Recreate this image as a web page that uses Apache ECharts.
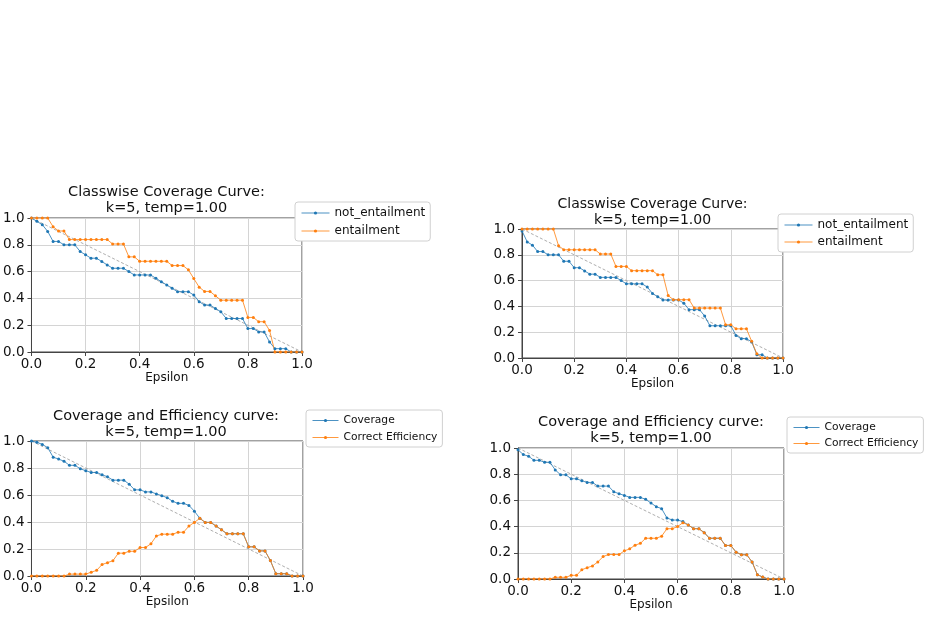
<!DOCTYPE html>
<html>
<head>
<meta charset="utf-8">
<script src="https://cdn.jsdelivr.net/npm/echarts@6/dist/echarts.min.js"></script>
<style>
  html, body { margin: 0; padding: 0; background: #fff; }
  #chart { width: 925px; height: 617px; }
</style>
</head>
<body>
<div id="chart"></div>
<script>
// epsilon grid (x values)
var eps = [0, 0.02, 0.04, 0.06, 0.08, 0.1, 0.12, 0.14, 0.16, 0.18,
  0.2, 0.22, 0.24, 0.26, 0.28, 0.3, 0.32, 0.34, 0.36, 0.38,
  0.4, 0.42, 0.44, 0.46, 0.48, 0.5, 0.52, 0.54, 0.56, 0.58,
  0.6, 0.62, 0.64, 0.66, 0.68, 0.7, 0.72, 0.74, 0.76, 0.78,
  0.8, 0.82, 0.84, 0.86, 0.88, 0.9, 0.92, 0.94, 0.96, 0.98, 1.0];

// top-left: classwise coverage
var notEnt1 = [1.0, 0.975, 0.95, 0.9, 0.825, 0.825, 0.8, 0.8, 0.8, 0.75,
  0.725, 0.7, 0.7, 0.675, 0.65, 0.625, 0.625, 0.625, 0.6, 0.575,
  0.575, 0.575, 0.575, 0.55, 0.525, 0.5, 0.475, 0.45, 0.45, 0.45,
  0.425, 0.375, 0.35, 0.35, 0.325, 0.3, 0.25, 0.25, 0.25, 0.25,
  0.175, 0.175, 0.15, 0.15, 0.075, 0.025, 0.025, 0.025, 0, 0, 0];
var ent1 = [1.0, 1.0, 1.0, 1.0, 0.935, 0.903, 0.903, 0.839, 0.839, 0.839,
  0.839, 0.839, 0.839, 0.839, 0.839, 0.806, 0.806, 0.806, 0.71, 0.71,
  0.677, 0.677, 0.677, 0.677, 0.677, 0.677, 0.645, 0.645, 0.645, 0.613,
  0.548, 0.484, 0.452, 0.452, 0.419, 0.387, 0.387, 0.387, 0.387, 0.387,
  0.258, 0.258, 0.226, 0.226, 0.161, 0, 0, 0, 0, 0, 0];

// top-right: classwise coverage
var notEnt2 = [0.985, 0.9, 0.875, 0.825, 0.825, 0.8, 0.8, 0.8, 0.75, 0.75,
  0.7, 0.7, 0.675, 0.65, 0.65, 0.625, 0.625, 0.625, 0.625, 0.6,
  0.575, 0.575, 0.575, 0.575, 0.55, 0.5, 0.475, 0.45, 0.45, 0.45,
  0.45, 0.425, 0.375, 0.375, 0.375, 0.325, 0.25, 0.25, 0.25, 0.25,
  0.25, 0.175, 0.15, 0.15, 0.125, 0.025, 0.025, 0, 0, 0, 0];
var ent2 = [1.0, 1.0, 1.0, 1.0, 1.0, 1.0, 1.0, 0.871, 0.839, 0.839,
  0.839, 0.839, 0.839, 0.839, 0.839, 0.806, 0.806, 0.806, 0.71, 0.71,
  0.71, 0.677, 0.677, 0.677, 0.677, 0.677, 0.645, 0.645, 0.484, 0.452,
  0.452, 0.452, 0.452, 0.387, 0.387, 0.387, 0.387, 0.387, 0.387, 0.258,
  0.258, 0.226, 0.226, 0.226, 0.129, 0.032, 0, 0, 0, 0, 0];

// bottom-left: coverage and efficiency
var cov3 = [1.0, 0.99, 0.975, 0.95, 0.88, 0.866, 0.85, 0.82, 0.82, 0.794,
  0.78, 0.767, 0.767, 0.75, 0.735, 0.71, 0.71, 0.71, 0.68, 0.638,
  0.638, 0.623, 0.623, 0.608, 0.595, 0.58, 0.553, 0.538, 0.538, 0.523,
  0.48, 0.427, 0.397, 0.397, 0.37, 0.342, 0.313, 0.313, 0.313, 0.313,
  0.216, 0.216, 0.186, 0.186, 0.114, 0.017, 0.017, 0.017, 0, 0, 0];
var eff3 = [0, 0, 0, 0, 0, 0, 0, 0.014, 0.014, 0.014,
  0.014, 0.028, 0.042, 0.085, 0.099, 0.113, 0.169, 0.169, 0.183, 0.183,
  0.211, 0.211, 0.239, 0.296, 0.31, 0.31, 0.31, 0.324, 0.324, 0.37,
  0.397, 0.427, 0.397, 0.397, 0.37, 0.342, 0.313, 0.313, 0.313, 0.313,
  0.216, 0.216, 0.186, 0.186, 0.114, 0.017, 0.017, 0.017, 0, 0, 0];

// bottom-right: coverage and efficiency
var cov4 = [0.986, 0.95, 0.937, 0.906, 0.906, 0.891, 0.891, 0.833, 0.795, 0.795,
  0.765, 0.765, 0.75, 0.737, 0.737, 0.709, 0.709, 0.709, 0.666, 0.651,
  0.638, 0.623, 0.623, 0.623, 0.608, 0.58, 0.552, 0.537, 0.466, 0.45,
  0.45, 0.438, 0.413, 0.384, 0.384, 0.354, 0.311, 0.311, 0.311, 0.256,
  0.256, 0.205, 0.185, 0.185, 0.13, 0.033, 0.015, 0, 0, 0, 0];
var eff4 = [0, 0, 0, 0, 0, 0, 0, 0.013, 0.013, 0.013,
  0.028, 0.028, 0.071, 0.086, 0.1, 0.13, 0.171, 0.187, 0.187, 0.187,
  0.215, 0.23, 0.258, 0.272, 0.311, 0.311, 0.311, 0.327, 0.384, 0.384,
  0.4, 0.43, 0.413, 0.384, 0.384, 0.354, 0.311, 0.311, 0.311, 0.256,
  0.256, 0.205, 0.185, 0.185, 0.13, 0.033, 0.015, 0, 0, 0, 0];

// reference diagonal
var diagX = [0, 1];
var diagY = [1, 0];

var classTitle = "Classwise Coverage Curve:\nk=5, temp=1.00";
var effTitle = "Coverage and Efficiency curve:\nk=5, temp=1.00";
var classNames = ["not_entailment", "entailment"];
var effNames = ["Coverage", "Correct Efficiency"];

var FONT = "DejaVu Sans";
var BLUE = "#1f77b4";
var ORANGE = "#ff7f0e";

function pairs(xs, ys) {
  return xs.map(function (x, i) { return [x, ys[i]]; });
}

// plot areas, in pixels
var grids = [
  { left: 31, top: 218, width: 271, height: 134 },
  { left: 522, top: 229, width: 261, height: 129 },
  { left: 29, top: 441, width: 274, height: 135 },
  { left: 518, top: 448, width: 266, height: 131 }
];

function axis(idx, isX) {
  var a = {
    type: "value",
    gridIndex: idx,
    min: 0,
    max: 1,
    interval: 0.2,
    axisLine: { show: true, onZero: false, lineStyle: { color: "#444", width: 1 } },
    axisTick: { show: true, length: 4, lineStyle: { color: "#444" } },
    axisLabel: {
      color: "#111",
      fontFamily: FONT,
      fontSize: 13.5,
      margin: isX ? 5 : 7,
      formatter: function (v) { return v.toFixed(1); }
    },
    splitLine: { show: true, lineStyle: { color: "#d4d4d4", width: 1 } }
  };
  if (isX) {
    a.name = "Epsilon";
    a.nameLocation = "middle";
    a.nameGap = 18;
    a.nameTextStyle = { color: "#111", fontFamily: FONT, fontSize: 12 };
  }
  return a;
}

function lineSeries(name, idx, ys, color) {
  return {
    name: name,
    type: "line",
    xAxisIndex: idx,
    yAxisIndex: idx,
    data: pairs(eps, ys),
    symbol: "circle",
    symbolSize: 3,
    showSymbol: true,
    itemStyle: { color: color },
    lineStyle: { color: color, width: 1, opacity: 0.8 },
    emphasis: { disabled: true },
    animation: false
  };
}

function diagSeries(idx) {
  return {
    name: "diag",
    type: "line",
    xAxisIndex: idx,
    yAxisIndex: idx,
    data: pairs(diagX, diagY),
    symbol: "none",
    lineStyle: { color: "#999", width: 0.8, type: [3, 2] },
    silent: true,
    animation: false
  };
}

var titlePos = [
  { x: 166.5, y: 184, size: 14.5 },
  { x: 652.5, y: 196, size: 14 },
  { x: 166, y: 408, size: 14.5 },
  { x: 651, y: 414, size: 14.5 }
];

var titles = titlePos.map(function (p, i) {
  return {
    text: i < 2 ? classTitle : effTitle,
    left: p.x,
    top: p.y,
    textAlign: "center",
    padding: 0,
    textStyle: {
      fontFamily: FONT,
      fontSize: p.size,
      fontWeight: "normal",
      color: "#111",
      lineHeight: 16
    }
  };
});

function legend(names, left, top, w, fs, gap) {
  return {
    data: names,
    orient: "vertical",
    left: left,
    top: top,
    itemWidth: w,
    itemHeight: 4,
    itemGap: gap,
    padding: [5, 5, 4, 6],
    borderColor: "#d0d0d0",
    borderWidth: 1,
    borderRadius: 3,
    backgroundColor: "#fff",
    lineStyle: { width: 1 },
    textStyle: { fontFamily: FONT, fontSize: fs, color: "#111" }
  };
}

var option = {
  backgroundColor: "#fff",
  animation: false,
  title: titles,
  grid: grids.map(function (g) {
    return Object.assign({ show: true, borderColor: "#444", borderWidth: 1, containLabel: false }, g);
  }),
  xAxis: [axis(0, true), axis(1, true), axis(2, true), axis(3, true)],
  yAxis: [axis(0, false), axis(1, false), axis(2, false), axis(3, false)],
  legend: [
    legend(classNames, 295, 202, 28, 12, 6),
    legend(classNames, 778, 214, 28, 12, 5),
    legend(effNames, 306, 410, 26, 10.7, 6),
    legend(effNames, 787, 417, 26, 10.7, 5)
  ],
  series: [
    diagSeries(0),
    lineSeries("not_entailment", 0, notEnt1, BLUE),
    lineSeries("entailment", 0, ent1, ORANGE),
    diagSeries(1),
    lineSeries("not_entailment", 1, notEnt2, BLUE),
    lineSeries("entailment", 1, ent2, ORANGE),
    diagSeries(2),
    lineSeries("Coverage", 2, cov3, BLUE),
    lineSeries("Correct Efficiency", 2, eff3, ORANGE),
    diagSeries(3),
    lineSeries("Coverage", 3, cov4, BLUE),
    lineSeries("Correct Efficiency", 3, eff4, ORANGE)
  ]
};

var chart = echarts.init(document.getElementById("chart"));
chart.setOption(option);
</script>
</body>
</html>
